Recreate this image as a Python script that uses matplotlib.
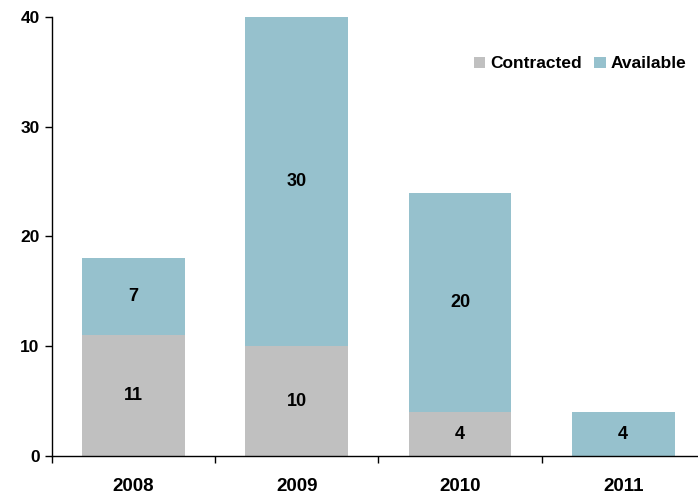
import matplotlib
matplotlib.use("Agg")
import matplotlib.pyplot as plt
import numpy as np

years = ["2008", "2009", "2010", "2011"]
contracted = [11, 10, 4, 0]
available = [7, 30, 20, 4]

plt.rcParams['font.family'] = ['Liberation Sans', 'DejaVu Sans']
plt.rcParams['font.weight'] = 'bold'

fig = plt.figure(figsize=(6.98, 4.95), dpi=100)
ax = fig.add_axes([0.0745, 0.0788, 0.9352, 0.8869])

x = np.arange(len(years))
w = 0.63
gray = '#C0C0C0'
blue = '#96C1CD'
ax.bar(x, contracted, w, color=gray, label='Contracted')
ax.bar(x, available, w, bottom=contracted, color=blue, label='Available')

fs = 13
for i in range(len(years)):
    if contracted[i] > 0:
        ax.text(x[i], contracted[i] / 2, str(contracted[i]), ha='center', va='center',
                fontsize=fs, fontweight='bold')
    if available[i] > 0:
        ax.text(x[i], contracted[i] + available[i] / 2, str(available[i]), ha='center',
                va='center', fontsize=fs, fontweight='bold')

ax.set_xlim(-0.5, 3.5)
ax.set_ylim(0, 40)
ax.set_yticks([0, 10, 20, 30, 40])
ax.tick_params(axis='y', direction='out', length=5, width=1, labelsize=12.5, pad=4)
ax.set_xticks(x)
ax.set_xticklabels(years, fontsize=13.5, fontweight='bold')
ax.tick_params(axis='x', which='major', length=0, pad=16)
ax.set_xticks([-0.5, 0.5, 1.5, 2.5], minor=True)
ax.tick_params(axis='x', which='minor', direction='out', length=5, width=1)
for lab in ax.get_yticklabels():
    lab.set_fontweight('bold')

ax.spines['top'].set_visible(False)
ax.spines['right'].set_visible(False)
ax.spines['left'].set_linewidth(1)
ax.spines['bottom'].set_linewidth(1)

leg = ax.legend(loc='center right', bbox_to_anchor=(0.972, 0.893), ncol=2, frameon=False,
                fontsize=12.5, handlelength=0.65, handleheight=0.65, handletextpad=0.3,
                columnspacing=0.7, borderaxespad=0.0, borderpad=0.0)
for t in leg.get_texts():
    t.set_fontweight('bold')

fig.savefig('out.png', dpi=100)
